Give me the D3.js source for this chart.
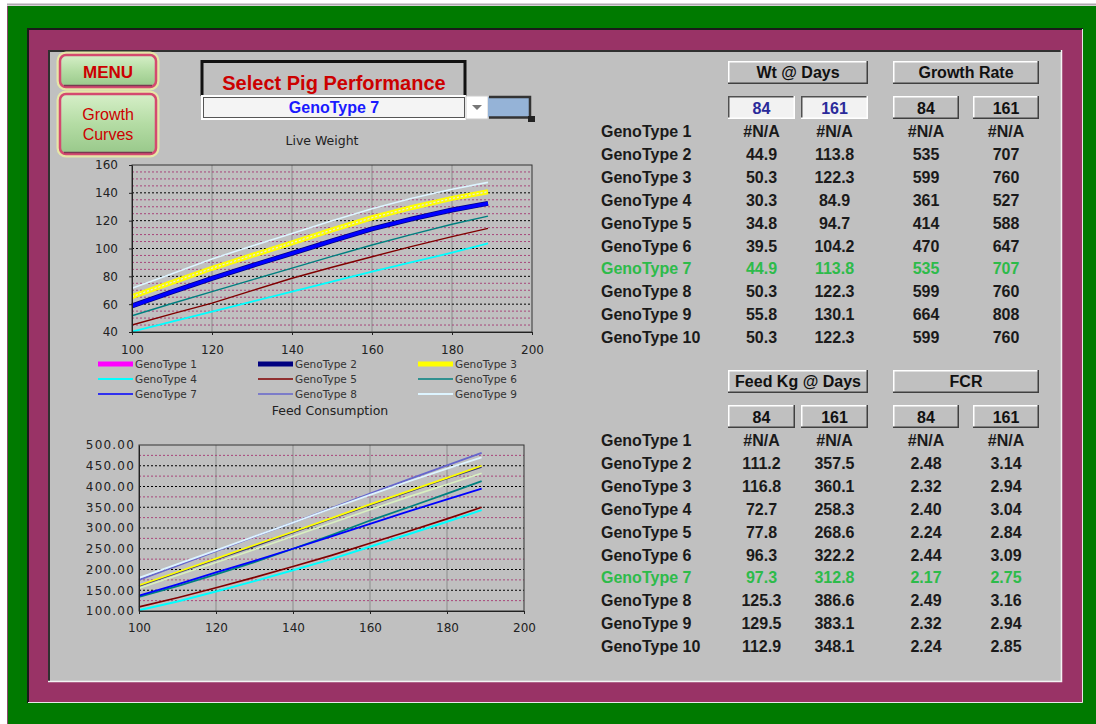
<!DOCTYPE html>
<html>
<head>
<meta charset="utf-8">
<script src="https://cdn.jsdelivr.net/npm/d3@7"></script>
<style>
body { margin: 0; background: #fff; }
svg { display: block; }
</style>
</head>
<body>
<svg width="1096" height="724"></svg>
<script>
// ---------- data ----------
var days = [100, 110, 120, 130, 140, 150, 160, 170, 180, 189];
var genoNames = ['GenoType 1', 'GenoType 2', 'GenoType 3', 'GenoType 4', 'GenoType 5',
                 'GenoType 6', 'GenoType 7', 'GenoType 8', 'GenoType 9', 'GenoType 10'];
var genoColors = ['#FF00FF', '#000080', '#FFFF00', '#00FFFF', '#800000',
                  '#008080', '#0000FF', '#6666CC', '#DDF4FF', '#D8F0C0'];
var selected = 6; // GenoType 7

// live weight (kg) by day, GenoType 1 is #N/A
var lwGT2 = [58.7, 68.8, 78.6, 87.7, 96.5, 105.5, 114.1, 121.3, 127.7, 132.4];
var lwGT3 = [65.4, 75.7, 85.8, 95.0, 104.1, 113.3, 122.1, 129.5, 136.0, 140.8];
var lwGT4 = [40.3, 47.5, 54.6, 61.8, 69.0, 76.2, 83.3, 90.2, 97.0, 103.7];
var lwGT5 = [45.0, 53.0, 60.8, 69.7, 78.6, 86.5, 94.1, 101.5, 108.5, 114.5];
var lwGT6 = [51.7, 60.5, 69.0, 77.5, 85.9, 94.3, 102.5, 110.2, 117.4, 123.3];
var lwGT7 = [58.7, 68.8, 78.6, 87.7, 96.5, 105.5, 114.1, 121.3, 127.7, 132.4];
var lwGT8 = [65.4, 75.7, 85.8, 95.0, 104.1, 113.3, 122.1, 129.5, 136.0, 140.8];
var lwGT9 = [71.4, 81.8, 92.5, 101.8, 110.8, 120.0, 128.6, 136.1, 142.6, 147.5];
var lwGT10 = [65.4, 75.7, 85.8, 95.0, 104.1, 113.3, 122.1, 129.5, 136.0, 140.8];

// cumulative feed (kg) by day
var fdGT2 = [160, 192, 224, 256, 289, 322, 355, 387, 419, 447];
var fdGT3 = [162, 194, 226, 259, 291, 324, 357, 389, 421, 450];
var fdGT4 = [102, 123, 147, 172, 198, 225, 255, 285, 315, 343];
var fdGT5 = [110, 132, 156, 181, 207, 234, 263, 292, 322, 350];
var fdGT6 = [134, 160, 188, 218, 250, 283, 318, 350, 383, 413];
var fdGT7 = [137, 164, 193, 221, 250, 280, 310, 340, 369, 395];
var fdGT8 = [175, 209, 244, 279, 313, 348, 383, 417, 451, 481];
var fdGT9 = [180, 213, 246, 280, 313, 347, 380, 412, 443, 470];
var fdGT10 = [155, 186, 217, 248, 280, 312, 344, 375, 405, 432];

// tables
var wt84 = [null, 44.9, 50.3, 30.3, 34.8, 39.5, 44.9, 50.3, 55.8, 50.3];
var wt161 = [null, 113.8, 122.3, 84.9, 94.7, 104.2, 113.8, 122.3, 130.1, 122.3];
var gr84 = [null, 535, 599, 361, 414, 470, 535, 599, 664, 599];
var gr161 = [null, 707, 760, 527, 588, 647, 707, 760, 808, 760];
var feed84 = [null, 111.2, 116.8, 72.7, 77.8, 96.3, 97.3, 125.3, 129.5, 112.9];
var feed161 = [null, 357.5, 360.1, 258.3, 268.6, 322.2, 312.8, 386.6, 383.1, 348.1];
var fcr84 = [null, 2.48, 2.32, 2.40, 2.24, 2.44, 2.17, 2.49, 2.32, 2.24];
var fcr161 = [null, 3.14, 2.94, 3.04, 2.84, 3.09, 2.75, 3.16, 2.94, 2.85];
var dayCols = [84, 161];

var svg = d3.select('svg');
var chartFont = "'DejaVu Sans', sans-serif";
var boldFont = "Arial, 'Liberation Sans', sans-serif";

// ---------- frame ----------
svg.append('rect').attr('x', 0).attr('y', 0).attr('width', 1096).attr('height', 724).attr('fill', '#fff');
svg.append('line').attr('x1', 7).attr('x2', 1096).attr('y1', 4.5).attr('y2', 4.5).attr('stroke', '#b0a8b0').attr('stroke-width', 2);
svg.append('rect').attr('x', 7).attr('y', 6).attr('width', 1089).attr('height', 718).attr('fill', '#007A00');
svg.append('line').attr('x1', 7.5).attr('x2', 7.5).attr('y1', 6).attr('y2', 724).attr('stroke', '#8a4a6a');

svg.append('rect').attr('x', 27).attr('y', 28).attr('width', 1056).attr('height', 675).attr('fill', '#993366');
svg.append('path').attr('d', 'M28,703 V29 H1083').attr('fill', 'none').attr('stroke', '#1a1a1a').attr('stroke-width', 2);
svg.append('path').attr('d', 'M28,702.5 H1082.5 V29').attr('fill', 'none').attr('stroke', '#e8e8e8').attr('stroke-width', 1);

svg.append('rect').attr('x', 48).attr('y', 50).attr('width', 1014).attr('height', 632).attr('fill', '#C0C0C0');
svg.append('path').attr('d', 'M49,682 V51 H1062').attr('fill', 'none').attr('stroke', '#303030').attr('stroke-width', 2);
svg.append('path').attr('d', 'M48,681.5 H1061.5 V50').attr('fill', 'none').attr('stroke', '#f4f4f4').attr('stroke-width', 1.5);

// ---------- buttons ----------
var defs = svg.append('defs');
var grad = defs.append('linearGradient').attr('id', 'btn').attr('x1', 0).attr('y1', 0).attr('x2', 0).attr('y2', 1);
grad.append('stop').attr('offset', '0%').attr('stop-color', '#d6efc8');
grad.append('stop').attr('offset', '50%').attr('stop-color', '#b4dca4');
grad.append('stop').attr('offset', '100%').attr('stop-color', '#98c88a');

function button(x, y, w, h) {
    svg.append('rect').attr('x', x - 2).attr('y', y - 2).attr('width', w + 4).attr('height', h + 4).attr('rx', 8)
        .attr('fill', 'none').attr('stroke', '#e6e6a8').attr('stroke-width', 3);
    svg.append('rect').attr('x', x).attr('y', y).attr('width', w).attr('height', h).attr('rx', 6)
        .attr('fill', 'url(#btn)').attr('stroke', '#d44a70').attr('stroke-width', 2.5);
    svg.append('path').attr('d', 'M' + (x + 4) + ',' + (y + h - 1.5) + ' H' + (x + w - 4))
        .attr('stroke', '#7a3a50').attr('stroke-width', 1.5);
}
button(60, 55, 96, 32);
svg.append('text').attr('x', 108).attr('y', 78).attr('text-anchor', 'middle')
    .style('font-family', boldFont).style('font-weight', 'bold').style('font-size', '17px')
    .attr('fill', '#CC0000').text('MENU');
button(60, 94, 96, 60);
svg.append('text').attr('x', 108).attr('y', 120).attr('text-anchor', 'middle')
    .style('font-family', boldFont).style('font-size', '16px').attr('fill', '#CC0000').text('Growth');
svg.append('text').attr('x', 108).attr('y', 139.5).attr('text-anchor', 'middle')
    .style('font-family', boldFont).style('font-size', '16px').attr('fill', '#CC0000').text('Curves');

// ---------- selector ----------
svg.append('path').attr('d', 'M202,96 V61.5 H465 V96').attr('fill', 'none').attr('stroke', '#111').attr('stroke-width', 3);
svg.append('text').attr('x', 334).attr('y', 89.5).attr('text-anchor', 'middle')
    .style('font-family', boldFont).style('font-weight', 'bold').style('font-size', '20px')
    .attr('fill', '#CC0000').text('Select Pig Performance');
svg.append('rect').attr('x', 201).attr('y', 95).attr('width', 265).attr('height', 25).attr('fill', '#fff');
svg.append('rect').attr('x', 203.5).attr('y', 97.5).attr('width', 261).attr('height', 20).attr('fill', '#f4f4f4')
    .attr('stroke', '#555').attr('stroke-width', 1);
svg.append('text').attr('x', 334).attr('y', 112.5).attr('text-anchor', 'middle')
    .style('font-family', boldFont).style('font-weight', 'bold').style('font-size', '16px')
    .attr('fill', '#1a1aff').text(genoNames[selected]);
svg.append('rect').attr('x', 466).attr('y', 96).attr('width', 22).attr('height', 23).attr('fill', '#fff')
    .attr('stroke', '#ccc');
svg.append('path').attr('d', 'M472,105 H482 L477,110 Z').attr('fill', '#777');
svg.append('rect').attr('x', 488).attr('y', 97).attr('width', 41).attr('height', 20).attr('fill', '#95B3D7');
svg.append('path').attr('d', 'M489,97 H530 V117.5 H489').attr('fill', 'none').attr('stroke', '#333').attr('stroke-width', 2.5);
svg.append('rect').attr('x', 528).attr('y', 116).attr('width', 7).attr('height', 6).attr('fill', '#222');

// ---------- chart helpers ----------
function grid(g, x, y, xTicks, majors, minors) {
    g.selectAll('.vgrid').data(xTicks).enter().append('line')
        .attr('x1', x).attr('x2', x).attr('y1', y.range()[0]).attr('y2', y.range()[1])
        .attr('stroke', '#8c8c8c').attr('stroke-width', 1);
    g.selectAll('.minor').data(minors).enter().append('line')
        .attr('x1', x.range()[0]).attr('x2', x.range()[1]).attr('y1', y).attr('y2', y)
        .attr('stroke', '#a8457a').attr('stroke-width', 1).attr('stroke-dasharray', '2,2');
    g.selectAll('.major').data(majors).enter().append('line')
        .attr('x1', x.range()[0]).attr('x2', x.range()[1]).attr('y1', y).attr('y2', y)
        .attr('stroke', '#000').attr('stroke-width', 1).attr('stroke-dasharray', '2,2');
}

function series(g, line, vals, color, width, dash) {
    g.append('path').datum(vals).attr('d', line).attr('fill', 'none')
        .attr('stroke', color).attr('stroke-width', width)
        .attr('stroke-dasharray', dash || null).attr('stroke-linejoin', 'round');
}

// ---------- Live Weight chart ----------
var x1 = d3.scaleLinear().domain([100, 200]).range([132, 532]);
var y1 = d3.scaleLinear().domain([40, 160]).range([332, 165]);
var g1 = svg.append('g');

svg.append('text').attr('x', 322).attr('y', 145).attr('text-anchor', 'middle')
    .style('font-family', chartFont).style('font-size', '12.5px').attr('fill', '#222').text('Live Weight');

grid(g1, x1, y1, [120, 140, 160, 180],
     d3.range(60, 160, 20),
     d3.range(45, 160, 5).filter(function(v) { return v % 20 !== 0; }));

var line1 = d3.line().x(function(d, i) { return x1(days[i]); }).y(function(d) { return y1(d); });
series(g1, line1, lwGT4, genoColors[3], 1.8);
series(g1, line1, lwGT5, genoColors[4], 1.4);
series(g1, line1, lwGT6, genoColors[5], 1.4);
series(g1, line1, lwGT9, genoColors[8], 1.6);
series(g1, line1, lwGT3, genoColors[2], 5);
series(g1, line1, lwGT8, '#d6d6a0', 1.6, '2,2');
series(g1, line1, lwGT10, '#f4f4d0', 1, '2,2');
series(g1, line1, lwGT2, genoColors[1], 5);
series(g1, line1, lwGT7, genoColors[6], 3.5);

g1.append('rect').attr('x', 132).attr('y', 165).attr('width', 400).attr('height', 167)
    .attr('fill', 'none').attr('stroke', '#333').attr('stroke-width', 1);

var ax1 = svg.append('g').attr('transform', 'translate(132,0)')
    .call(d3.axisLeft(y1).tickValues(d3.range(40, 161, 20)).tickSize(3).tickSizeOuter(0));
ax1.selectAll('text').attr('x', -14);
var bx1 = svg.append('g').attr('transform', 'translate(0,332)')
    .call(d3.axisBottom(x1).tickValues(d3.range(100, 201, 20)).tickSize(3).tickSizeOuter(0));
bx1.selectAll('text').attr('y', 13);
[ax1, bx1].forEach(function(a) {
    a.selectAll('text').style('font-family', chartFont).style('font-size', '12px').attr('fill', '#222');
    a.select('.domain').attr('stroke', '#222');
    a.selectAll('.tick line').attr('stroke', '#222');
});

// legend
var legendRows = [0, 0, 0, 1, 1, 1, 2, 2, 2];
var legendCols = [0, 1, 2, 0, 1, 2, 0, 1, 2];
var legendColX = [98, 258, 418];
var legendRowY = [364, 379, 394];
var legendWidths = [5, 5, 5, 1.8, 1.5, 1.5, 1.5, 1.5, 2];
var lg = svg.append('g');
genoNames.slice(0, 9).forEach(function(name, i) {
    var lx = legendColX[legendCols[i]], ly = legendRowY[legendRows[i]];
    lg.append('line').attr('x1', lx).attr('x2', lx + 35).attr('y1', ly).attr('y2', ly)
        .attr('stroke', genoColors[i]).attr('stroke-width', legendWidths[i]);
    lg.append('text').attr('x', lx + 37).attr('y', ly + 4).style('font-family', chartFont)
        .style('font-size', '10.5px').attr('fill', '#333').text(name);
});

// ---------- Feed Consumption chart ----------
var x2 = d3.scaleLinear().domain([100, 200]).range([139, 524]);
var y2 = d3.scaleLinear().domain([100, 500]).range([611, 445]);
var g2 = svg.append('g');

svg.append('text').attr('x', 330).attr('y', 415).attr('text-anchor', 'middle')
    .style('font-family', chartFont).style('font-size', '12.5px').attr('fill', '#222').text('Feed Consumption');

grid(g2, x2, y2, [120, 140, 160, 180],
     d3.range(150, 500, 50),
     d3.range(125, 500, 50));

var line2 = d3.line().x(function(d, i) { return x2(days[i]); }).y(function(d) { return y2(d); });
series(g2, line2, fdGT4, genoColors[3], 2);
series(g2, line2, fdGT5, genoColors[4], 1.6);
series(g2, line2, fdGT6, genoColors[5], 1.8);
series(g2, line2, fdGT7, genoColors[6], 1.8);
series(g2, line2, fdGT10, genoColors[9], 1.6);
series(g2, line2, fdGT2, '#3a3a70', 1.6);
series(g2, line2, fdGT3, genoColors[2], 1.8);
series(g2, line2, fdGT8, genoColors[7], 1.8);
series(g2, line2, fdGT9, genoColors[8], 1.8);

g2.append('rect').attr('x', 139).attr('y', 445).attr('width', 385).attr('height', 166)
    .attr('fill', 'none').attr('stroke', '#333').attr('stroke-width', 1);

var ax2 = svg.append('g').attr('transform', 'translate(139,0)')
    .call(d3.axisLeft(y2).tickValues(d3.range(100, 501, 50)).tickSize(0).tickSizeOuter(0)
        .tickFormat(d3.format('.2f')));
ax2.selectAll('text').attr('x', -4).style('letter-spacing', '1.2px');
var bx2 = svg.append('g').attr('transform', 'translate(0,611)')
    .call(d3.axisBottom(x2).tickValues(d3.range(100, 201, 20)).tickSize(3).tickSizeOuter(0));
bx2.selectAll('text').attr('y', 12.5);
[ax2, bx2].forEach(function(a) {
    a.selectAll('text').style('font-family', chartFont).style('font-size', '12px').attr('fill', '#222');
    a.select('.domain').attr('stroke', '#222');
    a.selectAll('.tick line').attr('stroke', '#222');
});

// ---------- tables ----------
var colX = [728, 801, 893, 973];
var colW = [67, 67, 66, 66];

function box(x, y, w, h, fill, sunken) {
    var light = sunken ? '#505050' : '#ffffff';
    var dark = sunken ? '#ffffff' : '#404040';
    svg.append('rect').attr('x', x).attr('y', y).attr('width', w).attr('height', h).attr('fill', fill);
    svg.append('path').attr('d', 'M' + (x + 0.75) + ',' + (y + h) + ' V' + (y + 0.75) + ' H' + (x + w))
        .attr('fill', 'none').attr('stroke', light).attr('stroke-width', 1.5);
    svg.append('path').attr('d', 'M' + x + ',' + (y + h - 0.75) + ' H' + (x + w - 0.75) + ' V' + y)
        .attr('fill', 'none').attr('stroke', dark).attr('stroke-width', 1.5);
}

function boldText(x, y, txt, color, anchor) {
    svg.append('text').attr('x', x).attr('y', y).attr('text-anchor', anchor || 'middle')
        .style('font-family', boldFont).style('font-weight', 'bold').style('font-size', '16px')
        .attr('fill', color).text(txt);
}

function table(top, titles, dayFill, dayColor, cols, fmts) {
    // header boxes
    box(728, top, 140, 23, '#C0C0C0', false);
    box(893, top, 146, 23, '#C0C0C0', false);
    boldText(798, top + 17, titles[0], '#111');
    boldText(966, top + 17, titles[1], '#111');
    // day boxes
    colX.forEach(function(cx, j) {
        var sunken = j < 2 && dayFill !== '#C0C0C0';
        box(cx, top + 35, colW[j], 23, j < 2 ? dayFill : '#C0C0C0', sunken);
        boldText(cx + colW[j] / 2, top + 53, dayCols[j % 2], j < 2 ? dayColor : '#111');
    });
    // rows
    genoNames.forEach(function(name, i) {
        var by = top + 76 + i * 22.9;
        var c = i === selected ? '#2DBB4A' : '#1a1a1a';
        boldText(601, by, name, c, 'start');
        cols.forEach(function(arr, j) {
            var v = arr[i];
            boldText(colX[j] + colW[j] / 2, by, v === null ? '#N/A' : fmts[j](v), c);
        });
    });
}

table(61, ['Wt @ Days', 'Growth Rate'], '#F2F2F2', '#2a2a9a',
      [wt84, wt161, gr84, gr161],
      [d3.format('.1f'), d3.format('.1f'), d3.format('d'), d3.format('d')]);
table(370, ['Feed Kg @ Days', 'FCR'], '#C0C0C0', '#111',
      [feed84, feed161, fcr84, fcr161],
      [d3.format('.1f'), d3.format('.1f'), d3.format('.2f'), d3.format('.2f')]);
</script>
</body>
</html>
